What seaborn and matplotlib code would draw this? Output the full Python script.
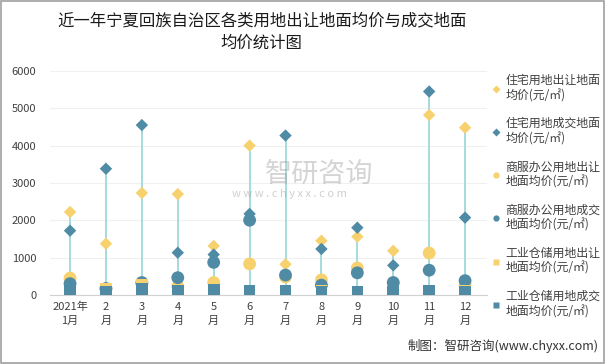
import matplotlib
matplotlib.use("Agg")
import matplotlib.pyplot as plt
import seaborn as sns
import numpy as np
import pandas as pd
from matplotlib.lines import Line2D

sns.set_style("white")
plt.rcParams['font.family'] = ['Noto Sans CJK SC', 'DejaVu Sans']

months = ["2021年\n1月", "2\n月", "3\n月", "4\n月", "5\n月", "6\n月", "7\n月", "8\n月", "9\n月", "10\n月", "11\n月", "12\n月"]
res_transfer = [2220, 1370, 2730, 2700, 1310, 4000, 820, 1450, 1560, 1180, 4820, 4480]
res_deal = [1720, 3380, 4550, 1130, 1080, 2170, 4270, 1230, 1800, 790, 5450, 2070]
com_transfer = [450, 160, 290, 230, 330, 830, 480, 400, 720, 310, 1120, 280]
com_deal = [300, 170, 330, 460, 870, 2000, 530, 260, 590, 330, 660, 380]
ind_transfer = [90, 150, 270, 40, 50, 60, 30, 120, 60, 60, 100, 110]
ind_deal = [120, 80, 150, 100, 130, 120, 110, 90, 80, 90, 100, 90]

names = ["住宅用地出让地面\n均价(元/㎡)", "住宅用地成交地面\n均价(元/㎡)", "商服办公用地出让\n地面均价(元/㎡)",
         "商服办公用地成交\n地面均价(元/㎡)", "工业仓储用地出让\n地面均价(元/㎡)", "工业仓储用地成交\n地面均价(元/㎡)"]
series = [res_transfer, res_deal, com_transfer, com_deal, ind_transfer, ind_deal]
yellow = "#f8d16f"
blue = "#4f8ba5"
colors = [yellow, blue, yellow, blue, yellow, blue]
markers = ["D", "D", "o", "o", "s", "s"]
sizes = [40, 40, 85, 85, 70, 70]

fig = plt.figure(figsize=(6.06, 3.64), dpi=100)
ax = fig.add_axes([0.083, 0.19, 0.72, 0.615])

x = np.arange(len(months))
df = pd.DataFrame({n: s for n, s in zip(names, series)})
df["x"] = x
hi = df[names].max(axis=1)
lo = df[names].min(axis=1)
ax.vlines(df["x"], lo, hi, color="#a6dcdc", lw=1.4, zorder=1)

for n, c, m, s in zip(names, colors, markers, sizes):
    sns.scatterplot(data=df, x="x", y=n, color=c, marker=m, s=s, edgecolor="none",
                    ax=ax, zorder=3, legend=False)

ax.set_ylim(0, 6000)
ax.set_xlim(-0.55, 11.6)
ax.set_yticks(range(0, 6001, 1000))
ax.set_xticks(x)
ax.set_xticklabels(months, fontsize=8, color="#404040", linespacing=1.5)
ax.tick_params(axis="y", labelsize=8, labelcolor="#404040", length=0, pad=10)
ax.tick_params(axis="x", length=0, pad=5)
ax.set_xlabel("")
ax.set_ylabel("")
ax.grid(axis="y", color="#f0f0f0", lw=0.8)
for sp in ["top", "right", "left"]:
    ax.spines[sp].set_visible(False)
ax.spines["bottom"].set_color("#d0d0d0")

handles = [Line2D([0], [0], marker=m, color="none", markerfacecolor=c, markeredgecolor="none",
                  markersize=4.5) for c, m in zip(colors, markers)]
fig.legend(handles, names, loc="upper left", bbox_to_anchor=(0.805, 0.81), frameon=False,
           fontsize=8.6, labelspacing=1.25, handlelength=0.6, handletextpad=0.5,
           labelcolor="#404040", borderaxespad=0)

fig.suptitle("近一年宁夏回族自治区各类用地出让地面均价与成交地面\n均价统计图", fontsize=11.8,
             x=0.432, y=0.965, linespacing=1.4, color="#1a1a1a")

fig.text(0.437, 0.522, "智研咨询", fontsize=19.5, color="#a0a0a0", alpha=0.45, ha="left", va="center")
fig.text(0.383, 0.467, "w w w . c h y x x . c o m", fontsize=8, color="#a0a0a0", alpha=0.5,
         ha="left", va="center")

fig.text(0.987, 0.03, "制图：智研咨询(www.chyxx.com)", fontsize=9, color="#333333", ha="right", va="bottom")

border = plt.Rectangle((0.002, 0.003), 0.995, 0.993, transform=fig.transFigure, fill=False,
                       edgecolor="#a0a0a0", lw=1.2)
fig.patches.append(border)

fig.savefig("out.png", dpi=100)
